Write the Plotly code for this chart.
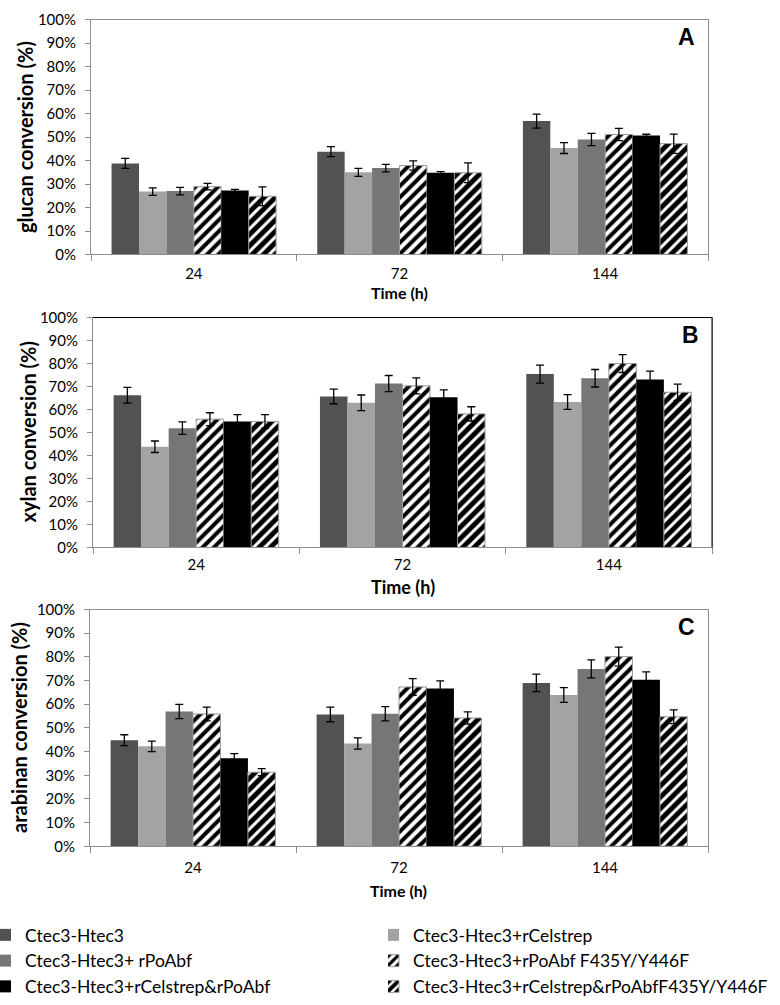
import plotly.graph_objects as go

times = ["24", "72", "144"]
series_names = [
    "Ctec3-Htec3",
    "Ctec3-Htec3+rCelstrep",
    "Ctec3-Htec3+ rPoAbf",
    "Ctec3-Htec3+rPoAbf F435Y/Y446F",
    "Ctec3-Htec3+rCelstrep&rPoAbf",
    "Ctec3-Htec3+rCelstrep&rPoAbfF435Y/Y446F",
]

# glucan conversion (%) per series, at 24/72/144 h
glucan = [
    [38.8, 43.8, 56.8],
    [26.8, 35.0, 45.3],
    [27.0, 36.8, 49.0],
    [28.9, 37.9, 51.1],
    [27.2, 34.8, 50.7],
    [24.8, 34.8, 47.2],
]
glucan_err = [
    [2.1, 2.1, 3.0],
    [1.6, 1.7, 2.3],
    [1.6, 1.6, 2.6],
    [1.4, 2.0, 2.6],
    [0.5, 0.5, 0.5],
    [4.0, 4.2, 4.1],
]

xylan = [
    [66.2, 65.7, 75.4],
    [43.8, 62.9, 63.3],
    [51.9, 71.3, 73.6],
    [55.8, 70.3, 80.0],
    [54.8, 65.3, 73.0],
    [54.8, 58.1, 67.5],
]
xylan_err = [
    [3.4, 3.2, 3.9],
    [2.5, 3.4, 3.2],
    [2.7, 3.5, 3.8],
    [2.8, 3.5, 3.9],
    [3.0, 3.2, 3.7],
    [3.0, 3.1, 3.5],
]

arabinan = [
    [44.8, 55.7, 69.0],
    [42.2, 43.4, 63.9],
    [56.9, 56.0, 74.9],
    [55.9, 67.3, 80.1],
    [37.2, 66.6, 70.3],
    [31.3, 54.2, 54.7],
]
arabinan_err = [
    [2.3, 3.1, 3.7],
    [2.2, 2.4, 3.1],
    [3.0, 3.0, 3.8],
    [2.9, 3.5, 4.0],
    [1.9, 3.3, 3.4],
    [1.5, 2.6, 2.9],
]

panel_letters = ["A", "B", "C"]
y_titles = ["glucan conversion (%)", "xylan conversion (%)", "arabinan conversion (%)"]
y_ticks = [0, 10, 20, 30, 40, 50, 60, 70, 80, 90, 100]
y_ticktext = [f"{v}%" for v in y_ticks]

W, H = 780, 1005
FONT = "Lato, 'Open Sans', sans-serif"

# style per series
styles = [
    dict(color="#525252", pattern=None, line=dict(width=0)),
    dict(color="#a3a3a3", pattern=None, line=dict(width=0)),
    dict(color="#767676", pattern=None, line=dict(width=0)),
    dict(color="white", pattern=dict(shape="/", fgcolor="black", bgcolor="white",
                                     size=8, solidity=0.5, fillmode="replace"),
         line=dict(width=1, color="#9a9a9a")),
    dict(color="black", pattern=None, line=dict(width=0)),
    dict(color="black", pattern=dict(shape="/", fgcolor="black", bgcolor="white",
                                     size=8, solidity=0.62, fillmode="replace"),
         line=dict(width=1, color="#9a9a9a")),
]

# panel pixel geometry (left, right, top, bottom)
panels = [
    (91, 708, 10, 252),
    (93, 712, 317, 554),
    (90, 708, 618, 862),
]

def px_x(v):
    return v / W

def px_y(v):
    return 1 - v / H

datasets = [(glucan, glucan_err), (xylan, xylan_err), (arabinan, arabinan_err)]

fig = go.Figure()
legends = ["legend", "legend2", "legend", "legend2", "legend", "legend2"]

for p, (vals, errs) in enumerate(datasets):
    xa = "x" if p == 0 else f"x{p+1}"
    ya = "y" if p == 0 else f"y{p+1}"
    for s in range(6):
        st = styles[s]
        marker = dict(color=st["color"], line=st["line"])
        if st["pattern"] is not None:
            marker["pattern"] = st["pattern"]
        fig.add_trace(go.Bar(
            x=times, y=vals[s], name=series_names[s],
            marker=marker,
            error_y=dict(type="data", array=errs[s], color="black",
                         thickness=1.3, width=4),
            xaxis=xa, yaxis=ya,
            showlegend=(p == 0),
            legend=legends[s],
            legendgroup=series_names[s],
        ))

layout = dict(
    width=W, height=H,
    margin=dict(l=0, r=0, t=0, b=0),
    paper_bgcolor="white", plot_bgcolor="white",
    barmode="group", bargap=0.2, bargroupgap=0.0,
    font=dict(family=FONT, color="black", size=15),
    showlegend=True,
)

AX_GREY = "#8e8e8e"
x_standoffs = [6, 4, 8]
annotations = []
shapes = []
for p in range(3):
    l, r, t, b = panels[p]
    xk = "xaxis" if p == 0 else f"xaxis{p+1}"
    yk = "yaxis" if p == 0 else f"yaxis{p+1}"
    ya = "y" if p == 0 else f"y{p+1}"
    xa = "x" if p == 0 else f"x{p+1}"
    layout[xk] = dict(
        domain=[px_x(l), px_x(r)], anchor=ya, type="category",
        showline=True, linecolor=AX_GREY, linewidth=1, mirror=True,
        ticks="outside", ticklen=6, tickcolor=AX_GREY, tickson="boundaries",
        showgrid=False, zeroline=False,
        tickfont=dict(size=15, family=FONT), ticklabelstandoff=x_standoffs[p],
    )
    layout[yk] = dict(
        domain=[px_y(b), px_y(t)], anchor=xa, range=[0, 100],
        tickmode="array", tickvals=y_ticks, ticktext=y_ticktext,
        showline=True, linecolor=AX_GREY, linewidth=1, mirror=True,
        ticks="outside", ticklen=5, tickcolor=AX_GREY,
        showgrid=False, zeroline=False,
        tickfont=dict(size=15, family=FONT), ticklabelstandoff=6,
    )
    # panel letter
    annotations.append(dict(
        text=f"<b>{panel_letters[p]}</b>", x=0.965, y=0.925,
        xref=f"{xa} domain", yref=f"{ya} domain",
        xanchor="center", yanchor="middle", showarrow=False,
        font=dict(size=23, family="Liberation Sans, Arial, sans-serif", color="black"),
    ))
    # y-axis title
    yt_x = [25, 27, 19][p]
    annotations.append(dict(
        text=f"<b>{y_titles[p]}</b>", x=px_x(yt_x), y=px_y((t + b) / 2),
        xref="paper", yref="paper", textangle=-90,
        xanchor="center", yanchor="middle", showarrow=False,
        font=dict(size=20, family=FONT, color="black"),
    ))

# x-axis titles
annotations.append(dict(text="<b>Time (h)</b>", x=px_x(400), y=px_y(291),
                        xref="paper", yref="paper", showarrow=False,
                        xanchor="center", yanchor="middle",
                        font=dict(size=16, family=FONT)))
annotations.append(dict(text="<b>Time (h)</b>", x=px_x(403), y=px_y(595),
                        xref="paper", yref="paper", showarrow=False,
                        xanchor="center", yanchor="middle",
                        font=dict(size=18, family=FONT)))
annotations.append(dict(text="<b>Time (h)</b>", x=px_x(399), y=px_y(908),
                        xref="paper", yref="paper", showarrow=False,
                        xanchor="center", yanchor="middle",
                        font=dict(size=16, family=FONT)))

# black frame top/right of panel B
shapes.append(dict(type="line", xref="x2 domain", yref="y2 domain",
                   x0=0, x1=1, y0=1, y1=1, line=dict(color="black", width=1)))
shapes.append(dict(type="line", xref="x2 domain", yref="y2 domain",
                   x0=1, x1=1, y0=0, y1=1, line=dict(color="black", width=1)))

layout["annotations"] = annotations
layout["shapes"] = shapes

leg_common = dict(
    orientation="v", xref="paper", yref="paper", yanchor="top", xanchor="left",
    bgcolor="rgba(0,0,0,0)", borderwidth=0, tracegroupgap=0,
    font=dict(size=17.5, family=FONT, color="black"), itemwidth=30,
    indentation=-15,
)
layout["legend"] = dict(leg_common, x=0, y=px_y(935))
layout["legend2"] = dict(leg_common, x=px_x(388), y=px_y(935))

fig.update_layout(**layout)
fig.write_html(
    "out.html",
    config={"displayModeBar": False},
    post_script="document.body.style.margin='0';document.body.style.overflow='hidden';",
)
